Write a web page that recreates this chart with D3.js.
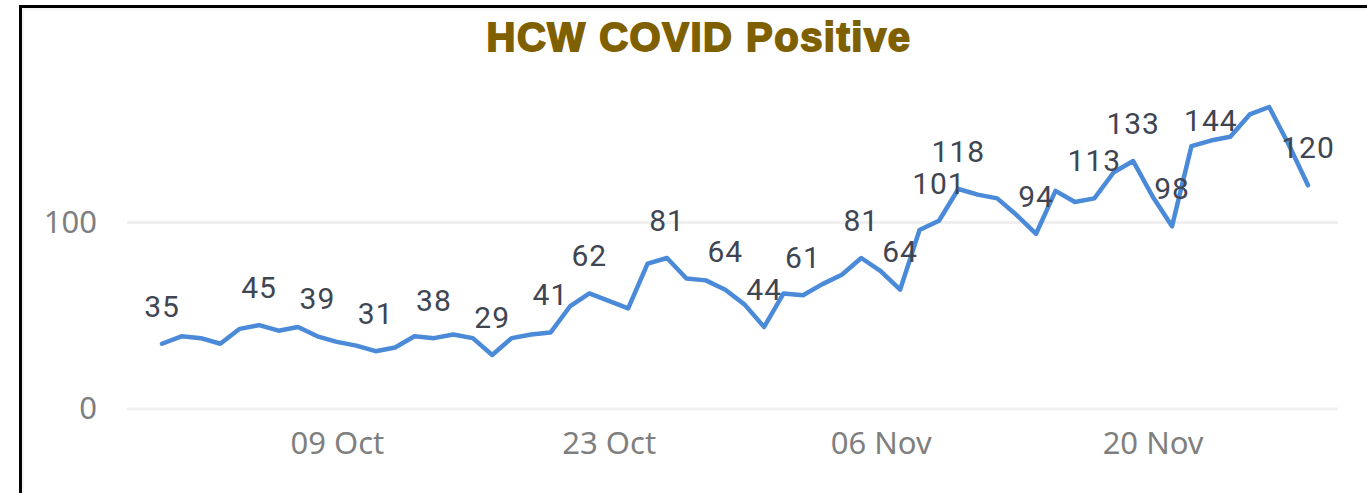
<!DOCTYPE html>
<html>
<head>
<meta charset="utf-8">
<script src="https://cdn.jsdelivr.net/npm/d3@7"></script>
<style>
  html, body { margin: 0; padding: 0; background: #fff; }
  svg { display: block; }
</style>
</head>
<body>
<div id="chart"></div>
<script>
// data (daily counts, first day 30 Sep)
var firstDay = "2020-09-30";
var positives = [35, 39, 38, 35, 43, 45, 42, 44, 39, 36,
                 34, 31, 33, 39, 38, 40, 38, 29, 38, 40,
                 41, 55, 62, 58, 54, 78, 81, 70, 69, 64,
                 56, 44, 62, 61, 67, 72, 81, 74, 64, 96,
                 101, 118, 115, 113, 104, 94, 117, 111, 113, 127,
                 133, 114, 98, 141, 144, 146, 158, 162, 142, 120];
// points that carry a data label
var labelled = [0, 5, 8, 11, 14, 17, 20, 22, 26, 29, 31, 33, 36, 38, 40, 41, 45, 48, 50, 52, 54, 59];
var xTicks = ["2020-10-09", "2020-10-23", "2020-11-06", "2020-11-20"];
var yTicks = [0, 100];

var width = 1367, height = 493;
var parse = d3.utcParse("%Y-%m-%d");
var start = parse(firstDay);
var data = positives.map(function(v, i) {
  return { date: d3.utcDay.offset(start, i), value: v };
});

var svg = d3.select("#chart")
  .append("svg")
  .attr("width", width)
  .attr("height", height);

// frame
svg.append("rect")
  .attr("x", 20.5).attr("y", 6.5)
  .attr("width", width + 20).attr("height", height + 20)
  .attr("fill", "none")
  .attr("stroke", "#000")
  .attr("stroke-width", 3);
svg.append("rect")
  .attr("x", 23).attr("y", 9)
  .attr("width", width + 20).attr("height", height + 20)
  .attr("fill", "none")
  .attr("stroke", "#f2f2f2")
  .attr("stroke-width", 1.5);

// title
svg.append("text")
  .attr("x", 699).attr("y", 51)
  .attr("text-anchor", "middle")
  .style("font-family", "'Liberation Sans', Arial, sans-serif")
  .style("font-weight", "bold")
  .style("font-size", "40px")
  .style("letter-spacing", "1.5px")
  .attr("fill", "#7f6000")
  .attr("stroke", "#7f6000")
  .attr("stroke-width", 1.8)
  .text("HCW COVID Positive");

// scales
var x = d3.scaleUtc()
  .domain(d3.extent(data, function(d) { return d.date; }))
  .range([162, 1308]);
var y = d3.scaleLinear()
  .domain([0, d3.max(positives)])
  .range([409, 107]);

// gridlines
svg.append("g")
  .selectAll("line")
  .data(yTicks)
  .enter()
  .append("line")
  .attr("x1", 127).attr("x2", 1338)
  .attr("y1", function(d) { return y(d); })
  .attr("y2", function(d) { return y(d); })
  .attr("stroke", "#efefef")
  .attr("stroke-width", 3);

// y axis labels
var yAxis = svg.append("g")
  .attr("transform", "translate(97,0)")
  .call(d3.axisLeft(y).tickValues(yTicks).tickSize(0).tickPadding(0));
yAxis.select(".domain").remove();
yAxis.selectAll("text")
  .style("font-family", "'Noto Sans', 'Open Sans', sans-serif")
  .style("font-size", "31px")
  .attr("fill", "#7f7f7f");

// x axis labels
var xAxis = svg.append("g")
  .attr("transform", "translate(0,431)")
  .call(d3.axisBottom(x)
    .tickValues(xTicks.map(parse))
    .tickFormat(d3.utcFormat("%d %b"))
    .tickSize(0).tickPadding(0));
xAxis.select(".domain").remove();
xAxis.selectAll("text")
  .attr("dy", "0.75em")
  .style("font-family", "'Noto Sans', 'Open Sans', sans-serif")
  .style("font-size", "31px")
  .attr("fill", "#7f7f7f");

// line
var line = d3.line()
  .x(function(d) { return x(d.date); })
  .y(function(d) { return y(d.value); });

svg.append("path")
  .datum(data)
  .attr("d", line)
  .attr("fill", "none")
  .attr("stroke", "#4a8ad8")
  .attr("stroke-width", 4.5)
  .attr("stroke-linejoin", "round")
  .attr("stroke-linecap", "round");

// data labels, kept inside the plot area
svg.append("g")
  .selectAll("text")
  .data(labelled.map(function(i) { return data[i]; }))
  .enter()
  .append("text")
  .attr("x", function(d) { return x(d.date); })
  .attr("y", function(d) { return Math.max(y(d.value) - 38, y.range()[1] + 13); })
  .attr("dy", "0.36em")
  .attr("text-anchor", "middle")
  .style("font-family", "Roboto, 'Noto Sans', sans-serif")
  .style("font-size", "30px")
  .style("letter-spacing", "1px")
  .attr("fill", "#404552")
  .text(function(d) { return d.value; });
</script>
</body>
</html>
